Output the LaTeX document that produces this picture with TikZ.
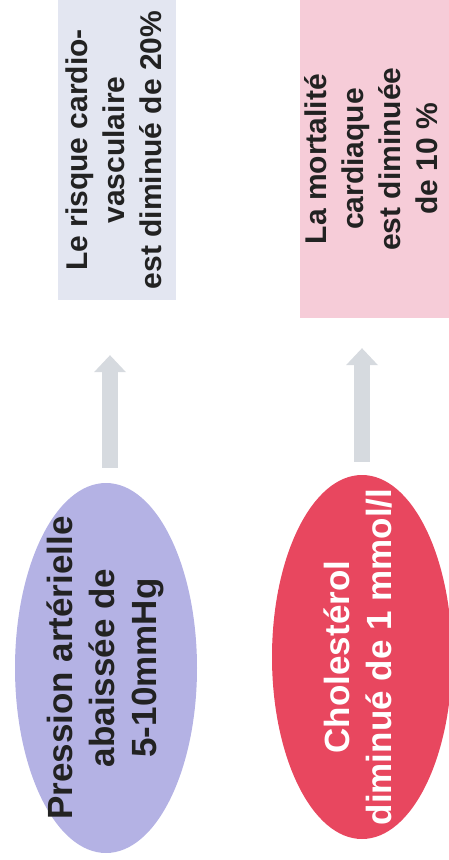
\documentclass[tikz,border=0pt]{standalone}
\usepackage{fontspec}
\setmainfont{Liberation Sans}
\usetikzlibrary{shapes.geometric,arrows.meta}
\definecolor{boxblue}{HTML}{E3E6F1}
\definecolor{boxpink}{HTML}{F6CCD8}
\definecolor{lav}{HTML}{B4B2E4}
\definecolor{redell}{HTML}{E8475F}
\definecolor{arrowgrey}{HTML}{D6DADF}
\definecolor{ink}{HTML}{222222}
\newcommand{\stack}[1]{\begin{tabular}{@{}c@{}}#1\end{tabular}}
\begin{document}
\begin{tikzpicture}[x=1pt,y=1pt,
  resultbox/.style={rectangle, inner sep=0pt, rotate=90, text=ink,
    font=\bfseries\fontsize{30}{37}\selectfont},
  causeell/.style={ellipse, inner sep=0pt, rotate=90,
    minimum width=370pt, minimum height=182pt,
    font=\bfseries\fontsize{35}{42}\selectfont},
  bigarrow/.style={draw=arrowgrey, line width=16pt,
    -{Triangle[width=32pt,length=17pt,line width=0pt]}}]
\useasboundingbox (0,0) rectangle (449,-860);
% result boxes
\node[resultbox, fill=boxblue, minimum width=300pt, minimum height=118pt] (br) at (117,-150)
  {\stack{Le risque cardio-\\vasculaire\\est diminué de 20\%}};
\node[resultbox, fill=boxpink, minimum width=318pt, minimum height=149pt] (pk) at (374.5,-159)
  {\stack{La mortalité\\cardiaque\\est diminuée\\de 10 \%}};
% cause ellipses
\node[causeell, fill=lav, text=ink] (pa) at (106,-668)
  {\makebox[0pt]{\stack{Pression artérielle\\abaissée de\\5-10mmHg}}};
\node[causeell, fill=redell, text=white, minimum width=364pt, minimum height=180pt] (ch) at (362,-657)
  {\makebox[0pt]{\stack{Cholestérol\\diminué de 1 mmol/l}}};
% arrows
\draw[bigarrow, shorten <=15pt, shorten >=55pt]
  ([xshift=4pt]pa.east) -- ([xshift=4pt]pa.east |- br.west);
\draw[bigarrow, shorten <=13pt, shorten >=30pt]
  (ch.east) -- (ch.east |- pk.west);
\end{tikzpicture}
\end{document}
